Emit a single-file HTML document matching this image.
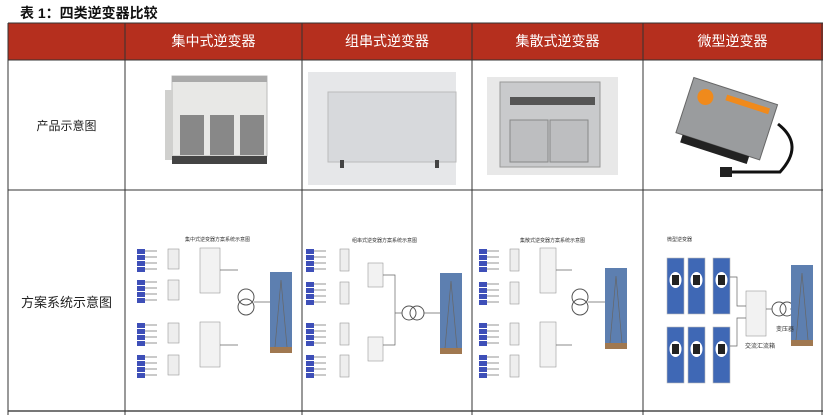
<!DOCTYPE html>
<html><head><meta charset="utf-8"><style>
body{margin:0;width:830px;height:415px;overflow:hidden;background:#fff;font-family:"Liberation Sans","Noto Sans CJK SC",sans-serif;position:relative}
.t{position:absolute;left:20px;top:3px;font-size:14px;font-weight:bold;color:#111}
.h{position:absolute;top:23px;height:37px;background:#b52f1e;color:#fff;font-size:14px;text-align:center;line-height:37px}
.l{position:absolute;font-size:12px;color:#222;text-align:center}
svg{position:absolute;left:0;top:0}
</style></head><body>
<div class="t">表 1：四类逆变器比较</div>
<div class="h" style="left:8px;width:815px"></div>
<div class="h" style="left:125px;width:177px">集中式逆变器</div>
<div class="h" style="left:302px;width:170px">组串式逆变器</div>
<div class="h" style="left:472px;width:171px">集散式逆变器</div>
<div class="h" style="left:643px;width:179px">微型逆变器</div>
<div class="l" style="left:8px;width:117px;top:117px">产品示意图</div>
<div class="l" style="left:8px;width:117px;top:292px;font-size:13px">方案系统示意图</div>
<svg id="s" width="830" height="415" xmlns="http://www.w3.org/2000/svg">
<g stroke="#333" stroke-width="1" fill="none">
<line x1="8" y1="23" x2="823" y2="23"/>
<line x1="8" y1="60" x2="823" y2="60"/>
<line x1="8" y1="190" x2="823" y2="190"/>
<line x1="8" y1="411" x2="823" y2="411" stroke="#777" stroke-width="2"/>
<line x1="8" y1="23" x2="8" y2="415"/>
<line x1="125" y1="23" x2="125" y2="415"/>
<line x1="302" y1="23" x2="302" y2="415"/>
<line x1="472" y1="23" x2="472" y2="415"/>
<line x1="643" y1="23" x2="643" y2="415"/>
<line x1="822" y1="23" x2="822" y2="415"/>
</g>
<!-- product 1 -->
<rect x="172" y="76" width="95" height="80" fill="#e8e8e6" stroke="#bbb"/>
<rect x="165" y="90" width="8" height="70" fill="#d0d0ce"/>
<rect x="180" y="115" width="24" height="40" fill="#888"/>
<rect x="210" y="115" width="24" height="40" fill="#888"/>
<rect x="240" y="115" width="24" height="40" fill="#888"/>
<rect x="172" y="156" width="95" height="8" fill="#444"/>
<rect x="172" y="76" width="95" height="6" fill="#aaa"/>
<!-- product 2 -->
<rect x="308" y="72" width="148" height="113" fill="#e6e7e9"/>
<rect x="328" y="92" width="128" height="70" fill="#d7d9dc" stroke="#bbb"/>
<rect x="340" y="160" width="4" height="8" fill="#444"/><rect x="435" y="160" width="4" height="8" fill="#444"/>
<!-- product 3 -->
<rect x="487" y="77" width="131" height="98" fill="#e8e8e8"/>
<rect x="500" y="82" width="100" height="85" fill="#c9cacc" stroke="#999"/>
<rect x="510" y="97" width="85" height="8" fill="#555"/>
<rect x="510" y="120" width="38" height="42" fill="#bdbec0" stroke="#888"/>
<rect x="550" y="120" width="38" height="42" fill="#bdbec0" stroke="#888"/>
<!-- product 4 -->
<g transform="rotate(18 728 118)">
<rect x="683" y="90" width="88" height="58" fill="#9a9c9e" stroke="#666"/>
<rect x="720" y="96" width="45" height="6" fill="#f08a1c"/>
<circle cx="700" cy="105" r="8" fill="#f08a1c"/>
<rect x="690" y="148" width="70" height="8" fill="#222"/>
</g>
<path d="M778 124 Q805 145 780 172 L728 172" stroke="#111" stroke-width="3" fill="none"/>
<rect x="720" y="167" width="12" height="10" fill="#222"/>
<g id="d"></g>
</svg>
<script>
var d=document.getElementById('d'),h='';
function R(x,y,w,hh,f,s){h+='<rect x="'+x+'" y="'+y+'" width="'+w+'" height="'+hh+'" fill="'+f+'" stroke="'+(s||'none')+'" stroke-width="0.6"/>';}
function L(p){h+='<path d="'+p+'" stroke="#666" stroke-width="0.7" fill="none"/>';}
function tower(x,y){R(x,y,22,80,'#5d7fb0');R(x,y+75,22,6,'#a07850');L('M'+(x+11)+' '+(y+8)+' L'+(x+5)+' '+(y+75)+' M'+(x+11)+' '+(y+8)+' L'+(x+17)+' '+(y+75));}
function panels(x,y){for(var i=0;i<4;i++){R(x,y+i*6,8,5,'#3e4fb8');L('M'+(x+8)+' '+(y+2+i*6)+' h12');}}
// col1
h+='<text x="185" y="241" font-size="5" fill="#333">集中式逆变器方案系统示意图</text>';
[249,280,323,355].forEach(function(y){panels(137,y);R(168,y,11,20,'#eee','#999');});
R(200,248,20,45,'#f2f2f2','#999');R(200,322,20,45,'#f2f2f2','#999');
h+='<circle cx="246" cy="297" r="8" fill="none" stroke="#555"/><circle cx="246" cy="307" r="8" fill="none" stroke="#555"/>';
L('M220 270 H238 M220 345 H238 M254 302 H270');tower(270,272);
// col2
h+='<text x="352" y="242" font-size="5" fill="#333">组串式逆变器方案系统示意图</text>';
[249,282,323,355].forEach(function(y){panels(306,y);R(340,y,9,22,'#eee','#999');});
R(368,263,15,24,'#f2f2f2','#999');R(368,337,15,24,'#f2f2f2','#999');
h+='<circle cx="409" cy="313" r="7" fill="none" stroke="#555"/><circle cx="417" cy="313" r="7" fill="none" stroke="#555"/>';
L('M383 275 H395 V345 H383 M395 313 H402 M424 313 H440');tower(440,273);
// col3
h+='<text x="520" y="242" font-size="5" fill="#333">集散式逆变器方案系统示意图</text>';
[249,282,323,355].forEach(function(y){panels(479,y);R(510,y,9,22,'#eee','#999');});
R(540,248,16,45,'#f2f2f2','#999');R(540,322,16,45,'#f2f2f2','#999');
h+='<circle cx="580" cy="297" r="8" fill="none" stroke="#555"/><circle cx="580" cy="307" r="8" fill="none" stroke="#555"/>';
L('M556 270 H572 M556 345 H572 M588 302 H605');tower(605,268);
// col4
h+='<text x="667" y="241" font-size="5" fill="#333">微型逆变器</text>';
[[667,258],[688,258],[713,258],[667,327],[688,327],[713,327]].forEach(function(p){R(p[0],p[1],17,56,'#3f68b5','#bbb');h+='<ellipse cx="'+(p[0]+8.5)+'" cy="'+(p[1]+22)+'" rx="6" ry="8" fill="#fff"/><rect x="'+(p[0]+5)+'" y="'+(p[1]+17)+'" width="7" height="10" fill="#222"/>';});
R(746,291,20,45,'#f2f2f2','#999');
h+='<circle cx="779" cy="309" r="7" fill="none" stroke="#555"/><circle cx="787" cy="309" r="7" fill="none" stroke="#555"/>';
L('M730 277 H737 V306 H746 M730 346 H737 V318 H746 M766 309 H772 M794 309 H790');tower(791,265);
h+='<text x="745" y="348" font-size="6" fill="#333">交流汇流箱</text><text x="776" y="331" font-size="6" fill="#333">变压器</text>';
d.innerHTML=h;
</script>
</body></html>
